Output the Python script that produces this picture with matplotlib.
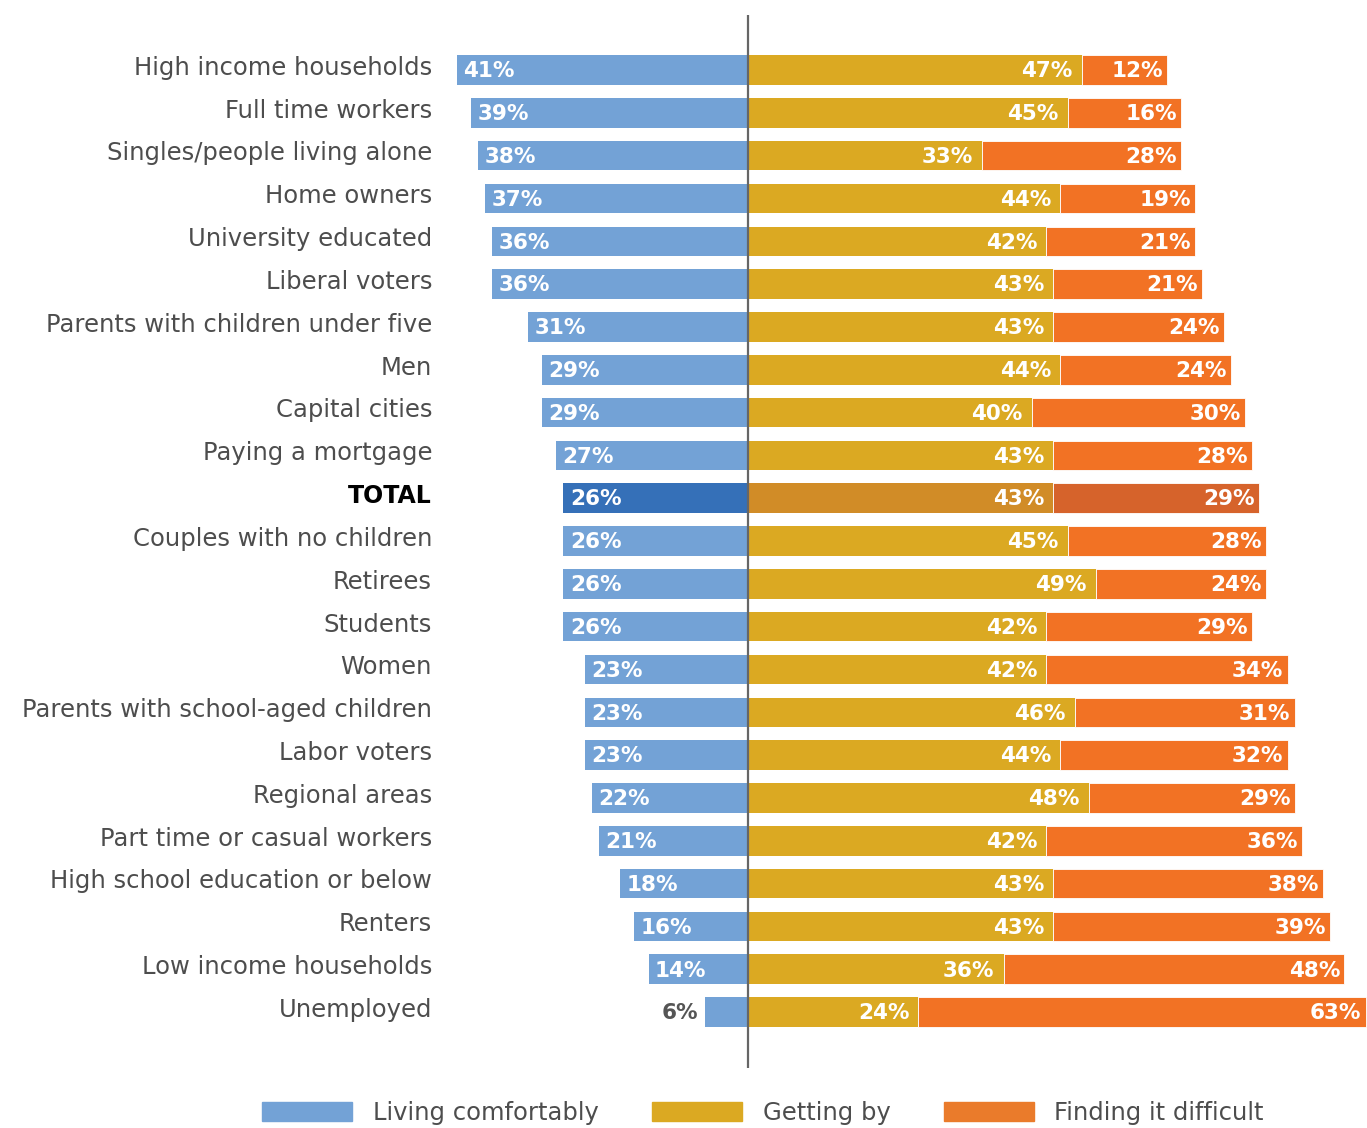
import matplotlib.pyplot as plt
from matplotlib.patches import Patch

# Survey groups, top to bottom
groups = [
    "High income households", "Full time workers", "Singles/people living alone",
    "Home owners", "University educated", "Liberal voters",
    "Parents with children under five", "Men", "Capital cities",
    "Paying a mortgage", "TOTAL", "Couples with no children", "Retirees",
    "Students", "Women", "Parents with school-aged children", "Labor voters",
    "Regional areas", "Part time or casual workers",
    "High school education or below", "Renters", "Low income households",
    "Unemployed",
]
comfortable = [41, 39, 38, 37, 36, 36, 31, 29, 29, 27, 26, 26, 26, 26, 23, 23, 23, 22, 21, 18, 16, 14, 6]
getting_by = [47, 45, 33, 44, 42, 43, 43, 44, 40, 43, 43, 45, 49, 42, 42, 46, 44, 48, 42, 43, 43, 36, 24]
difficult = [12, 16, 28, 19, 21, 21, 24, 24, 30, 28, 29, 28, 24, 29, 34, 31, 32, 29, 36, 38, 39, 48, 63]
legend_labels = ["Living comfortably", "Getting by", "Finding it difficult"]

blue, gold, orange = "#73a2d6", "#dba922", "#f27224"
blue_t, gold_t, orange_t = "#3570b8", "#d18c27", "#d6632b"
label_color = "#4d4d4d"

fig = plt.figure(figsize=(13.67, 11.28), dpi=100)
ax = fig.add_axes([0, 0, 1, 1])

px = 7.1     # pixels per percent
row = 42.82  # pixels per row
ax.set_xlim(-748 / px, (1367 - 748) / px)
ax.set_ylim((1128 - 70) / row, -70 / row)
ax.axis("off")

for i, name in enumerate(groups):
    c, g, d = comfortable[i], getting_by[i], difficult[i]
    total = name == "TOTAL"
    cb, cg, co = (blue_t, gold_t, orange_t) if total else (blue, gold, orange)
    ax.barh(i, -c, height=0.69, color=cb)
    ax.barh(i, g, height=0.69, color=cg)
    ax.barh(i, d, left=g, height=0.69, color=co, edgecolor="white", linewidth=0.6)

    kw = dict(va="center", fontsize=15.5, fontweight="bold")
    if c < 10:
        ax.text(-c - 1.0, i + 0.03, f"{c}%", ha="right", color="#555555", **kw)
    else:
        ax.text(-c + 0.9, i + 0.03, f"{c}%", ha="left", color="white", **kw)
    ax.text(g - 1.3, i + 0.03, f"{g}%", ha="right", color="white", **kw)
    ax.text(g + d - 0.6, i + 0.03, f"{d}%", ha="right", color="white", **kw)

    ax.text(-44.5, i - 0.05, name, ha="right", va="center",
            fontsize=17.5 if not total else 17,
            fontweight="bold" if total else "normal",
            color="black" if total else label_color)

ax.vlines(0, (15 - 70) / row, (1068 - 70) / row, color="#666666", linewidth=1.6)

handles = [Patch(color=blue), Patch(color=gold), Patch(color="#ea7b2b")]
fig.legend(handles, legend_labels, loc="center left",
           bbox_to_anchor=(262 / 1367, 1 - 1113 / 1128), ncol=3, frameon=False,
           fontsize=17.5, handlelength=3.7, handleheight=0.85, handletextpad=0.85,
           columnspacing=2.2, borderpad=0, borderaxespad=0, labelcolor=label_color)

fig.savefig("out.png", dpi=100)
